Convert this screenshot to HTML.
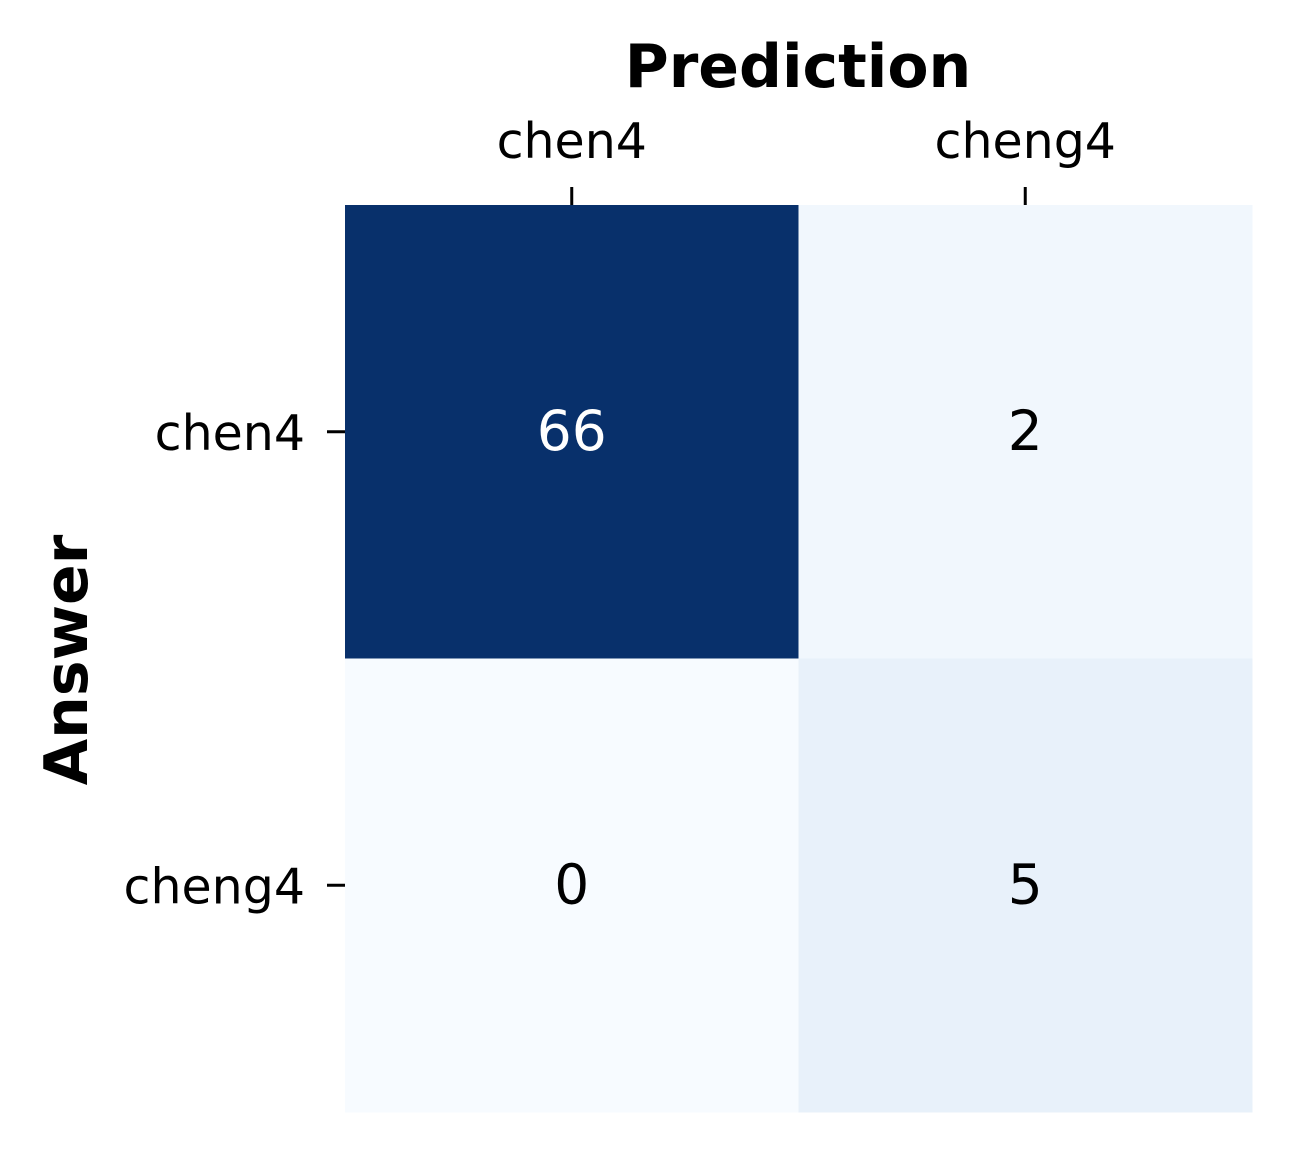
<!DOCTYPE html>
<html><head><meta charset="utf-8"><style>
html,body{margin:0;padding:0;background:#fff;}
svg{display:block;font-family:"DejaVu Sans","Liberation Sans",sans-serif;}
</style></head><body>
<svg id="chart" width="1293" height="1154" viewBox="0 0 1293 1154" xmlns="http://www.w3.org/2000/svg">
<rect width="1293" height="1154" fill="#fff"/>
<g id="cells"></g>
<g id="ticks"></g>
<text x="798" y="87" text-anchor="middle" font-size="60" font-weight="bold">Prediction</text>
<text transform="translate(87,660) rotate(-90)" text-anchor="middle" font-size="60" font-weight="bold">Answer</text>
</svg>
<script>
const rowLabels = ["chen4", "cheng4"];
const colLabels = ["chen4", "cheng4"];
const values = [[66, 2], [0, 5]];

const NS = "http://www.w3.org/2000/svg";
const x0 = 345, y0 = 205, size = 907;
const cw = size / colLabels.length, ch = size / rowLabels.length;
const vmin = Math.min(...values.flat()), vmax = Math.max(...values.flat());
const stops = ["#f7fbff","#deebf7","#c6dbef","#9ecae1","#6baed6","#4292c6","#2171b5","#08519c","#08306b"];
function hex(h){return [1,3,5].map(i=>parseInt(h.substr(i,2),16));}
function blues(t){
  t = Math.max(0, Math.min(1, t));
  const p = t * (stops.length - 1), i = Math.min(Math.floor(p), stops.length - 2), f = p - i;
  const a = hex(stops[i]), b = hex(stops[i+1]);
  const c = a.map((v,k)=>Math.round(v + (b[k]-v)*f));
  return [`rgb(${c.join(",")})`, (0.299*c[0]+0.587*c[1]+0.114*c[2]) < 128];
}
const xPos = j => x0 + j * cw;
const yPos = i => y0 + i * ch;
const cells = document.getElementById("cells");
const ticks = document.getElementById("ticks");
values.forEach((row, i) => row.forEach((v, j) => {
  const [col, dark] = blues((v - vmin) / (vmax - vmin));
  const r = document.createElementNS(NS, "rect");
  r.setAttribute("x", xPos(j)); r.setAttribute("y", yPos(i));
  r.setAttribute("width", cw + 0.5); r.setAttribute("height", ch + 0.5);
  r.setAttribute("fill", col);
  
  
  cells.appendChild(r);
  const t = document.createElementNS(NS, "text");
  t.setAttribute("x", xPos(j) + cw/2); t.setAttribute("y", yPos(i) + ch/2 + 18);
  t.setAttribute("text-anchor", "middle"); t.setAttribute("font-size", "55");
  t.setAttribute("fill", dark ? "#fff" : "#000");
  t.textContent = v;
  
  
  cells.appendChild(t);
}));
colLabels.forEach((lab, j) => {
  const cx = xPos(j) + cw/2;
  const l = document.createElementNS(NS, "line");
  l.setAttribute("x1", cx); l.setAttribute("x2", cx); l.setAttribute("y1", 187); l.setAttribute("y2", y0);
  l.setAttribute("stroke", "#000"); l.setAttribute("stroke-width", "3");
  
  
  ticks.appendChild(l);
  const t = document.createElementNS(NS, "text");
  t.setAttribute("x", cx); t.setAttribute("y", 158);
  t.setAttribute("text-anchor", "middle"); t.setAttribute("font-size", "49");
  t.textContent = lab;
  
  
  ticks.appendChild(t);
});
rowLabels.forEach((lab, i) => {
  const cy = yPos(i) + ch/2;
  const l = document.createElementNS(NS, "line");
  l.setAttribute("x1", 327); l.setAttribute("x2", x0); l.setAttribute("y1", cy); l.setAttribute("y2", cy);
  l.setAttribute("stroke", "#000"); l.setAttribute("stroke-width", "3");
  
  
  ticks.appendChild(l);
  const t = document.createElementNS(NS, "text");
  t.setAttribute("x", 305); t.setAttribute("y", cy + 18);
  t.setAttribute("text-anchor", "end"); t.setAttribute("font-size", "49");
  t.textContent = lab;
  
  
  ticks.appendChild(t);
});
</script>
</body></html>
